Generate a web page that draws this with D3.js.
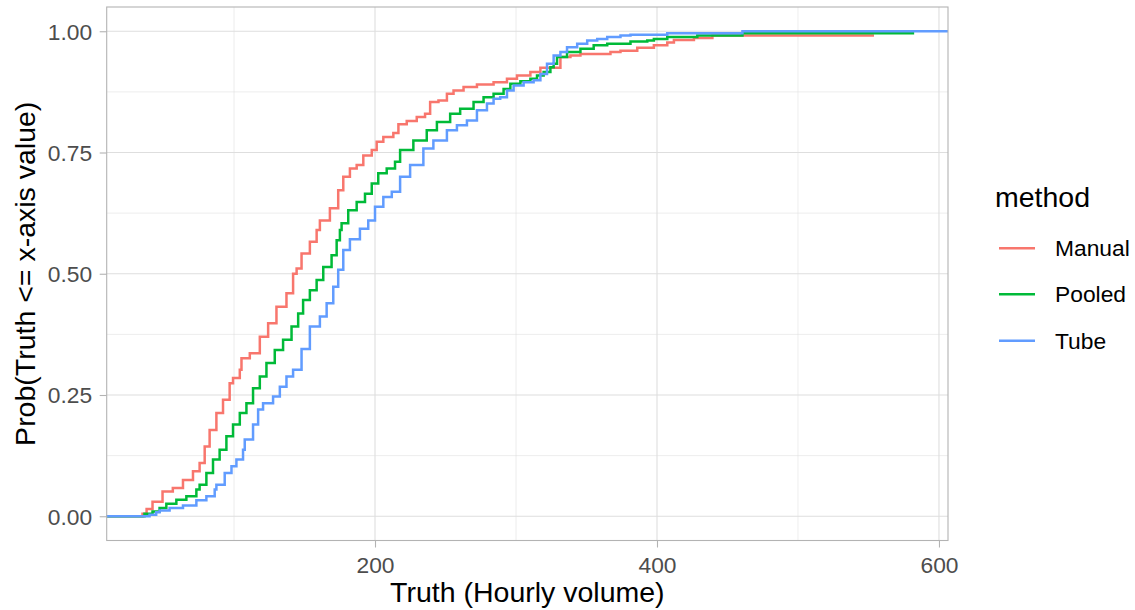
<!DOCTYPE html>
<html>
<head>
<meta charset="utf-8">
<script src="https://cdn.jsdelivr.net/npm/d3@7"></script>
<style>
  html, body { margin: 0; padding: 0; background: #ffffff; }
  svg { display: block; font-family: "Liberation Sans", Arial, sans-serif; }
</style>
</head>
<body>
<svg id="chart" width="1135" height="610"></svg>
<script>
// ---------- data ----------
const methods = ["Manual", "Pooled", "Tube"];
const colors = ["#F8766D", "#00BA38", "#619CFF"];

const manualX = [35.1, 38, 42.2, 49.3, 56.6, 63.8, 70.9, 75.6, 79.2, 82.7, 87.5, 92.2, 96.9, 99.3, 104.1, 105.3, 111.2, 118.3, 124.2, 130.1, 137.2, 141.9, 144.4, 147.9, 153.8, 158.6, 160.9, 168, 173.9, 177.5, 182.2, 187, 191.7, 197.7, 201.2, 205.9, 213, 216.6, 222.5, 229.6, 235.5, 239.1, 245, 251, 255.7, 262.8, 272.3, 284.1, 293.6, 300.7, 310.2, 317.3, 331.5, 338.6, 345.7, 367, 374.1, 386, 397.8, 407.3, 412, 426.2, 439.3, 553.9];
const manualY = [0.005, 0.015, 0.03, 0.051, 0.058, 0.075, 0.093, 0.11, 0.144, 0.178, 0.213, 0.24, 0.274, 0.285, 0.302, 0.326, 0.336, 0.37, 0.398, 0.432, 0.46, 0.5, 0.511, 0.542, 0.566, 0.59, 0.61, 0.635, 0.672, 0.7, 0.717, 0.724, 0.744, 0.755, 0.772, 0.782, 0.79, 0.808, 0.815, 0.823, 0.83, 0.854, 0.857, 0.871, 0.878, 0.885, 0.89, 0.895, 0.902, 0.909, 0.916, 0.925, 0.947, 0.95, 0.953, 0.957, 0.96, 0.966, 0.971, 0.977, 0.982, 0.986, 0.991, 0.991];

const pooledX = [36.5, 42.2, 47.2, 52, 59.1, 66.2, 73.3, 75.6, 80.4, 85.1, 89.8, 94.6, 99.3, 104.1, 108.8, 113.5, 118.3, 123, 128.9, 134.8, 140.8, 145.5, 149, 153.8, 158.6, 163.3, 169.2, 172.8, 175.1, 176.3, 181, 187, 192.9, 197.7, 202.3, 208.3, 214.2, 217.8, 227.2, 236.7, 243.9, 253.3, 260.4, 269.9, 277, 284.1, 291.2, 296, 303.1, 310.2, 314.9, 319.6, 324.4, 326.7, 329.1, 336.2, 345.7, 355.1, 364.7, 381.2, 393.1, 397.8, 407.3, 428.6, 460.6, 582.4];
const pooledY = [0.005, 0.01, 0.017, 0.026, 0.034, 0.041, 0.055, 0.065, 0.089, 0.117, 0.137, 0.165, 0.189, 0.213, 0.233, 0.264, 0.288, 0.316, 0.343, 0.364, 0.391, 0.418, 0.446, 0.466, 0.487, 0.514, 0.538, 0.569, 0.59, 0.604, 0.631, 0.648, 0.665, 0.686, 0.707, 0.717, 0.731, 0.755, 0.775, 0.796, 0.813, 0.83, 0.84, 0.854, 0.864, 0.871, 0.881, 0.892, 0.897, 0.902, 0.909, 0.916, 0.926, 0.933, 0.947, 0.957, 0.964, 0.971, 0.974, 0.979, 0.981, 0.984, 0.988, 0.991, 0.996, 0.996];

const tubeX = [40.1, 44.8, 47.2, 54.3, 63.8, 73.3, 80.4, 86.3, 87.5, 93.4, 98.2, 101.7, 106.4, 107.6, 113.5, 117.1, 120.6, 127.7, 132.5, 137.2, 141.9, 147.9, 153.8, 160.9, 165.7, 170.4, 173.9, 177.5, 182.2, 189.3, 195.2, 200, 205.9, 211.9, 217.8, 224.9, 234.3, 241.4, 251, 258.1, 265.2, 272.3, 279.4, 284.1, 288.8, 293.6, 298.3, 305.4, 312.5, 317.3, 322, 326.7, 331.5, 336.2, 343.4, 350.5, 357.6, 364.7, 374.1, 381.2, 407.3, 460.6, 650];
const tubeY = [0.003, 0.008, 0.012, 0.017, 0.022, 0.033, 0.041, 0.055, 0.065, 0.089, 0.103, 0.117, 0.137, 0.158, 0.189, 0.22, 0.233, 0.247, 0.267, 0.288, 0.302, 0.345, 0.391, 0.412, 0.439, 0.473, 0.508, 0.549, 0.571, 0.593, 0.61, 0.638, 0.658, 0.669, 0.7, 0.724, 0.758, 0.775, 0.796, 0.806, 0.816, 0.837, 0.851, 0.861, 0.864, 0.878, 0.888, 0.895, 0.899, 0.912, 0.933, 0.95, 0.957, 0.967, 0.974, 0.981, 0.984, 0.988, 0.991, 0.993, 0.996, 1.0, 1.0];

const xTicks = [200, 400, 600];
const xMinor = [100, 300, 500];
const yTicks = [0, 0.25, 0.5, 0.75, 1];
const yTickLabels = ["0.00", "0.25", "0.50", "0.75", "1.00"];
const yMinor = [0.125, 0.375, 0.625, 0.875];

const xTitle = "Truth (Hourly volume)";
const yTitle = "Prob(Truth <= x-axis value)";
const legendTitle = "method";

// ---------- layout ----------
const panel = { left: 106.7, right: 948, top: 7, bottom: 540.5 };
const svg = d3.select("#chart");

const x = d3.scaleLinear().domain([9.7, 606.4]).range([panel.left, panel.right]);
const y = d3.scaleLinear().domain([-0.05, 1.05]).range([panel.bottom, panel.top]);

const gridColor = "#DEDEDE";
const borderColor = "#B3B3B3";

svg.append("defs").append("clipPath").attr("id", "clip")
  .append("rect").attr("x", panel.left).attr("y", panel.top)
  .attr("width", panel.right - panel.left).attr("height", panel.bottom - panel.top);

const grid = svg.append("g");
grid.selectAll(".ymin").data(yMinor).enter().append("line")
  .attr("x1", panel.left).attr("x2", panel.right)
  .attr("y1", d => y(d)).attr("y2", d => y(d))
  .attr("stroke", gridColor).attr("stroke-width", 0.55);
grid.selectAll(".xmin").data(xMinor).enter().append("line")
  .attr("y1", panel.top).attr("y2", panel.bottom)
  .attr("x1", d => x(d)).attr("x2", d => x(d))
  .attr("stroke", gridColor).attr("stroke-width", 0.55);
grid.selectAll(".ymaj").data(yTicks).enter().append("line")
  .attr("x1", panel.left).attr("x2", panel.right)
  .attr("y1", d => y(d)).attr("y2", d => y(d))
  .attr("stroke", gridColor).attr("stroke-width", 1.1);
grid.selectAll(".xmaj").data(xTicks).enter().append("line")
  .attr("y1", panel.top).attr("y2", panel.bottom)
  .attr("x1", d => x(d)).attr("x2", d => x(d))
  .attr("stroke", gridColor).attr("stroke-width", 1.1);

const series = [
  { name: methods[0], xs: manualX, ys: manualY, color: colors[0] },
  { name: methods[1], xs: pooledX, ys: pooledY, color: colors[1] },
  { name: methods[2], xs: tubeX, ys: tubeY, color: colors[2] }
];

const line = d3.line()
  .x(d => x(d[0])).y(d => y(d[1]))
  .curve(d3.curveStepAfter);

const lines = svg.append("g").attr("clip-path", "url(#clip)");
series.forEach(s => {
  const pts = [[x.domain()[0] - 10, 0], [s.xs[0], 0]];
  s.xs.forEach((v, i) => pts.push([v, s.ys[i]]));
  lines.append("path")
    .attr("d", line(pts))
    .attr("fill", "none")
    .attr("stroke", s.color)
    .attr("stroke-width", 2.5)
    .attr("stroke-linejoin", "miter");
});

svg.append("rect")
  .attr("x", panel.left).attr("y", panel.top)
  .attr("width", panel.right - panel.left).attr("height", panel.bottom - panel.top)
  .attr("fill", "none").attr("stroke", borderColor).attr("stroke-width", 1.1);

const xAxis = d3.axisBottom(x).tickValues(xTicks).tickSize(7).tickPadding(5);
const gx = svg.append("g").attr("transform", `translate(0,${panel.bottom})`).call(xAxis);
gx.select(".domain").remove();
gx.selectAll(".tick line").attr("stroke", borderColor).attr("stroke-width", 1.1);
gx.selectAll(".tick text").attr("fill", "#4D4D4D").attr("font-size", "22.8px")
  .attr("font-family", "Liberation Sans, Arial, sans-serif")
  .attr("dy", null).attr("y", 32);

const yAxis = d3.axisLeft(y).tickValues(yTicks).tickFormat((d, i) => yTickLabels[i]).tickSize(7).tickPadding(6);
const gy = svg.append("g").attr("transform", `translate(${panel.left},0)`).call(yAxis);
gy.select(".domain").remove();
gy.selectAll(".tick line").attr("stroke", borderColor).attr("stroke-width", 1.1);
gy.selectAll(".tick text").attr("fill", "#4D4D4D").attr("font-size", "22.8px")
  .attr("font-family", "Liberation Sans, Arial, sans-serif")
  .attr("x", -14.5).attr("dy", "0.35em");

svg.append("text")
  .attr("x", (panel.left + panel.right) / 2).attr("y", 602)
  .attr("text-anchor", "middle").attr("font-size", "28.5px").attr("fill", "#000")
  .text(xTitle);
svg.append("text")
  .attr("transform", `translate(35,${(panel.top + panel.bottom) / 2}) rotate(-90)`)
  .attr("text-anchor", "middle").attr("font-size", "28.5px").attr("fill", "#000")
  .text(yTitle);

const lg = svg.append("g");
lg.append("text").attr("x", 995).attr("y", 207)
  .attr("font-size", "28.5px").attr("fill", "#000").text(legendTitle);
const keyY = [248.3, 294.3, 340.7];
series.forEach((s, i) => {
  lg.append("line").attr("x1", 999).attr("x2", 1035)
    .attr("y1", keyY[i]).attr("y2", keyY[i])
    .attr("stroke", s.color).attr("stroke-width", 2.5);
  lg.append("text").attr("x", 1055).attr("y", keyY[i]).attr("dy", "0.35em")
    .attr("font-size", "22.8px").attr("fill", "#000").text(s.name);
});
</script>
</body>
</html>
